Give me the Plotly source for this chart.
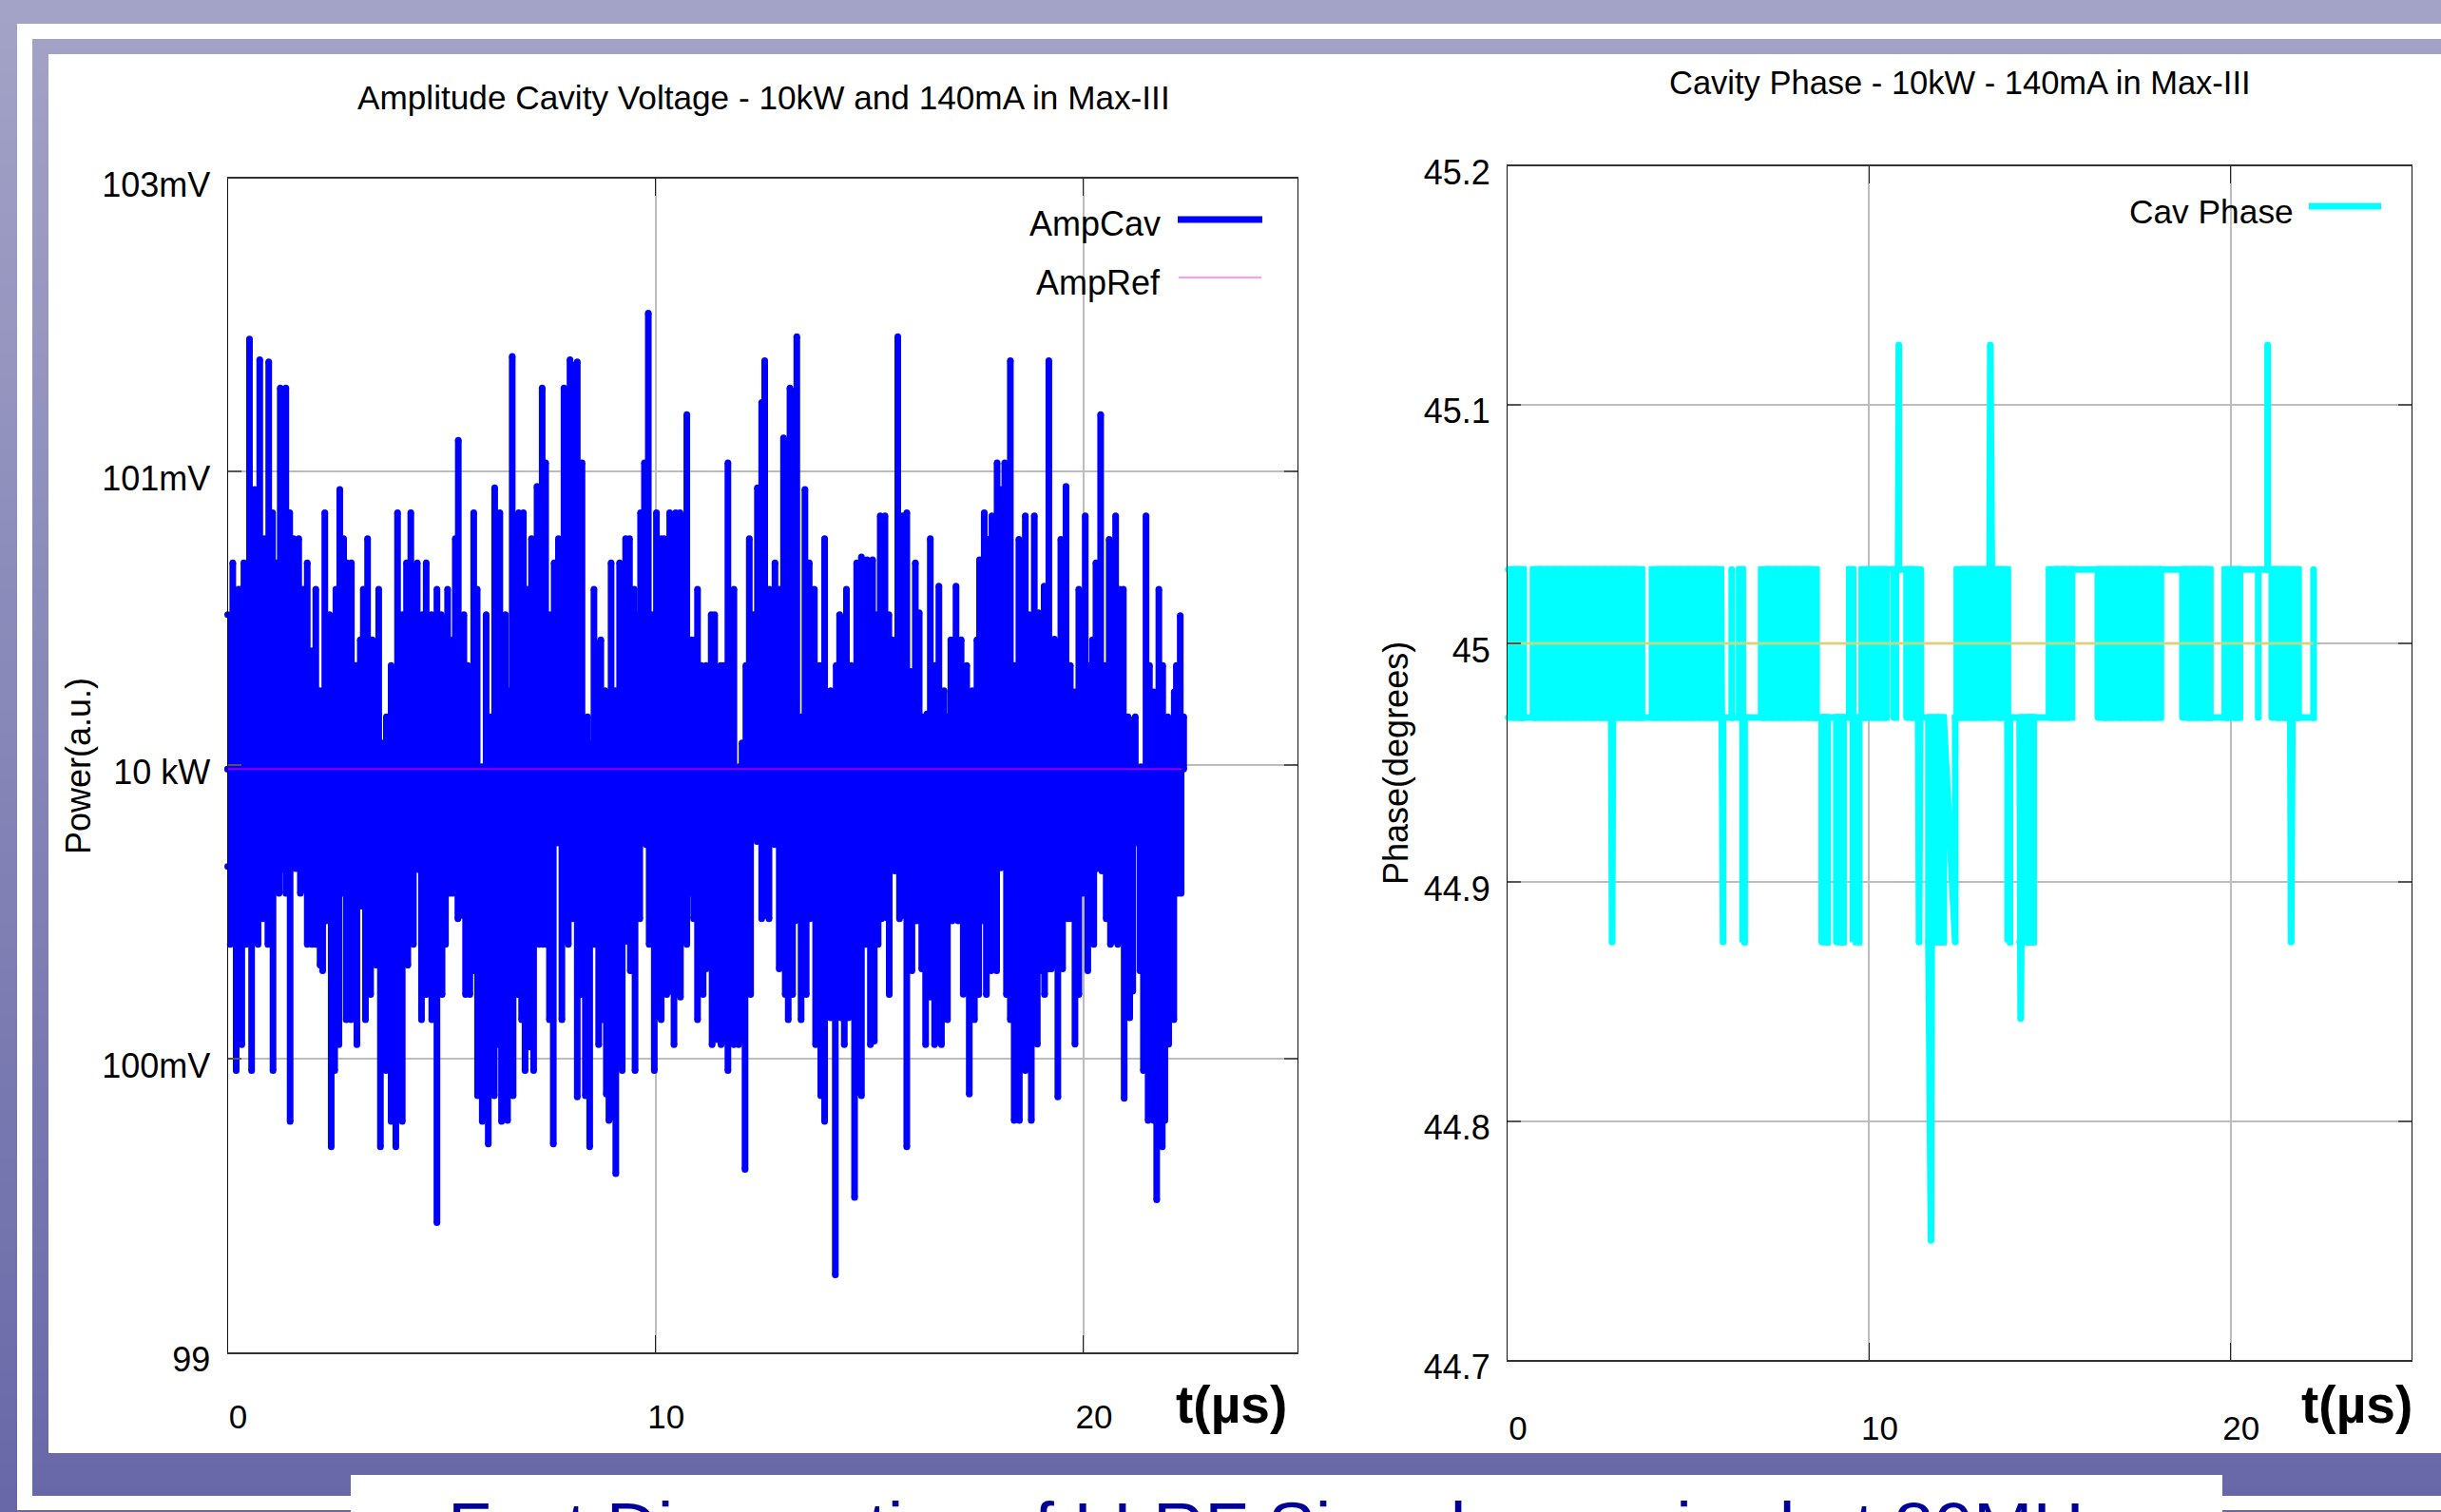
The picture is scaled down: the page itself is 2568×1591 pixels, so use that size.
import plotly.graph_objects as go

W, H_PX = 2568, 1591

# ---- Left chart: AmpCav upper envelope (t in microseconds, value on the axis scale)
amp_top_t = [0.00,0.12,0.25,0.31,0.38,0.51,0.63,0.75,0.86,0.96,1.05,1.14,1.23,1.36,1.45,1.54,1.66,1.76,1.86,1.97,2.06,2.16,2.27,2.38,2.44,2.53,2.62,2.71,2.79,2.89,2.97,3.02,3.10,3.17,3.27,3.38,3.44,3.53,3.61,3.71,3.82,3.97,4.08,4.18,4.28,4.43,4.55,4.64,4.76,4.89,4.99,5.14,5.25,5.32,5.39,5.52,5.61,5.75,5.83,5.93,6.04,6.15,6.24,6.36,6.49,6.56,6.65,6.80,6.91,7.00,7.10,7.23,7.35,7.43,7.52,7.57,7.63,7.73,7.86,8.00,8.17,8.28,8.41,8.47,8.56,8.72,8.82,8.87,8.96,9.06,9.16,9.30,9.39,9.50,9.57,9.65,9.74,9.83,9.93,10.02,10.13,10.20,10.33,10.47,10.57,10.73,10.84,10.92,10.98,11.07,11.18,
11.30,11.38,11.52,11.59,11.69,11.83,11.95,12.02,12.11,12.19,12.29,12.38,12.48,12.55,12.66,12.79,12.89,12.99,13.14,13.30,13.40,13.49,13.59,13.64,13.71,13.83,13.95,14.09,14.22,14.30,14.46,14.57,14.61,14.70,14.81,14.94,15.07,15.17,15.25,15.36,15.45,15.53,15.59,15.66,15.77,15.87,15.96,16.07,16.16,16.25,16.34,16.42,16.53,16.62,16.74,16.81,16.90,17.02,17.14,17.27,17.40,17.51,17.57,17.68,17.77,17.86,17.98,18.08,18.16,18.29,18.38,18.49,18.64,18.73,18.85,18.95,19.01,19.08,19.19,19.32,19.47,19.59,19.69,19.79,19.89,20.04,20.14,20.21,20.29,20.40,20.51,20.60,20.75,20.84,20.93,21.04,21.21,21.34,21.46,21.54,21.64,21.76,21.85,21.97,22.06,22.12,22.17,22.26,22.34]
amp_top_v = [101.513,101.69,101.60,101.60,101.69,102.452,101.94,102.382,101.772,102.374,101.86,101.69,102.285,102.285,101.86,101.772,101.772,101.60,101.69,101.39,101.60,101.254,101.86,101.513,101.34,101.60,101.94,101.772,101.69,101.69,101.34,101.34,101.427,101.60,101.772,101.427,101.34,101.60,101.076,101.165,101.34,101.86,101.513,101.69,101.86,101.69,101.513,101.69,101.513,101.60,101.513,101.60,101.427,101.772,102.107,101.513,101.34,101.86,101.60,100.995,101.513,101.165,101.945,101.86,101.513,101.254,102.393,101.86,101.86,101.60,101.772,101.95,102.285,102.03,101.513,101.427,101.69,101.772,102.285,102.382,102.374,102.03,101.165,101.076,101.60,101.427,101.254,100.995,101.69,101.254,101.69,101.772,101.772,101.60,101.513,101.86,102.03,102.54,101.513,101.86,101.772,101.772,101.86,101.86,101.86,102.195,101.427,101.427,101.60,101.34,101.34,
101.513,101.513,101.34,101.34,102.03,101.60,100.995,101.076,101.34,101.772,101.513,101.945,102.236,102.378,101.60,101.69,101.60,102.115,102.285,102.46,101.165,101.94,101.69,101.427,101.60,101.34,101.772,101.254,101.34,101.513,101.60,101.34,101.254,101.69,101.71,101.70,101.70,101.513,101.85,101.85,101.513,101.427,101.34,102.46,101.85,101.86,101.32,101.69,101.52,101.165,101.175,101.772,101.34,101.61,101.254,101.165,101.427,101.61,101.427,101.34,101.254,101.427,101.70,101.86,101.77,101.85,102.03,101.94,102.03,102.378,101.34,101.77,101.85,101.513,101.85,101.52,101.34,101.61,102.378,101.43,101.77,101.95,101.34,101.25,101.60,101.85,101.34,101.427,101.69,102.195,101.34,101.77,101.85,101.60,101.60,101.165,101.165,100.995,101.85,101.34,101.25,101.60,101.34,101.165,100.99,101.25,101.34,101.51,101.165]

# ---- Left chart: AmpCav lower envelope
amp_bot_t = [0.00,0.06,0.20,0.33,0.43,0.56,0.71,0.83,0.94,1.06,1.20,1.29,1.36,1.46,1.59,1.70,1.86,1.97,2.06,2.16,2.22,2.30,2.42,2.50,2.60,2.68,2.77,2.88,3.02,3.13,3.22,3.34,3.43,3.47,3.57,3.70,3.82,3.93,4.08,4.21,4.34,4.45,4.53,4.64,4.71,4.77,4.89,5.01,5.09,5.19,5.26,5.38,5.56,5.66,5.75,5.84,5.95,6.09,6.23,6.32,6.40,6.54,6.67,6.78,6.87,6.95,7.06,7.15,7.28,7.37,7.45,7.52,7.61,7.71,7.81,7.96,8.06,8.17,8.26,8.36,8.46,8.56,8.67,8.76,8.85,8.91,9.07,9.22,9.31,9.41,9.52,9.63,9.70,9.78,9.85,9.97,10.13,10.26,10.43,10.58,10.73,10.84,10.89,10.98,11.11,11.18,
11.32,11.43,11.53,11.69,11.83,11.94,12.09,12.22,12.31,12.37,12.48,12.65,12.78,12.89,13.03,13.10,13.20,13.26,13.40,13.52,13.61,13.74,13.86,13.95,14.09,14.20,14.33,14.41,14.51,14.57,14.65,14.81,14.91,15.02,15.11,15.20,15.28,15.33,15.40,15.46,15.59,15.70,15.87,15.99,16.10,16.22,16.31,16.42,16.52,16.68,16.82,16.93,17.07,17.19,17.33,17.45,17.55,17.62,17.73,17.84,17.97,18.07,18.20,18.29,18.38,18.50,18.64,18.78,18.92,18.99,19.09,19.18,19.25,19.40,19.51,19.56,19.63,19.69,19.80,19.89,19.97,20.10,20.24,20.33,20.43,20.53,20.63,20.80,20.95,21.08,21.15,21.24,21.32,21.40,21.51,21.64,21.71,21.84,21.90,21.99,22.11,22.21,22.28]
amp_bot_v = [100.655,100.39,99.96,100.048,100.39,99.96,100.39,100.477,100.39,99.96,100.564,100.645,100.564,99.787,100.648,100.564,100.39,100.39,100.39,100.319,100.30,100.47,99.70,99.96,100.048,100.564,100.133,100.133,100.048,100.52,100.133,100.219,100.477,100.319,99.70,99.96,99.787,99.70,99.787,100.319,100.39,100.645,100.133,100.219,100.39,100.133,99.442,100.219,100.39,100.564,100.564,100.477,100.219,100.219,100.30,99.874,99.787,99.71,99.874,100.048,99.787,99.79,99.874,100.219,100.133,99.96,100.04,99.96,100.39,100.39,100.39,100.133,99.71,100.735,100.133,100.39,100.477,99.87,100.219,99.874,99.70,100.39,100.048,100.133,99.88,99.79,99.609,99.96,100.40,100.30,99.96,100.477,100.735,100.73,100.39,99.96,100.133,100.219,100.048,100.21,100.39,100.564,100.477,100.133,100.219,100.306,
100.048,100.065,100.048,99.96,100.048,100.048,99.623,100.219,100.81,100.74,100.477,100.477,100.73,100.306,100.219,100.133,100.219,100.47,100.133,100.219,100.477,100.048,99.874,99.787,100.14,99.264,100.14,100.048,100.14,100.30,99.528,99.874,100.39,100.048,100.06,100.39,100.477,100.73,100.48,100.219,100.64,100.477,99.70,100.30,100.47,100.306,100.048,100.21,100.048,100.048,100.133,100.47,100.47,100.22,99.88,100.133,100.219,100.47,100.219,100.30,100.30,100.65,100.219,100.133,99.79,99.79,99.96,99.79,100.05,100.30,100.219,100.306,100.306,99.87,100.306,100.63,100.477,100.477,100.05,100.219,100.564,100.30,100.39,100.648,100.64,100.477,100.39,100.39,99.865,100.14,100.23,100.735,100.30,99.96,99.79,99.79,99.52,99.70,99.79,100.05,100.133,100.564,100.564]

amp_ref_t = [0.0, 22.3]
amp_ref_v = [100.987, 100.987]

# ---- Right chart: cavity phase, quantised levels in degrees
H, L, D, E, F, U = 45.031, 44.969, 44.875, 44.75, 44.843, 45.125
phase_t = [0.02,0.02,0.16,0.26,0.35,0.44,0.44,
0.71,0.71,0.81,0.91,1.01,1.10,1.20,1.30,1.40,1.50,1.60,1.70,1.80,1.90,1.99,2.09,2.19,2.29,2.39,2.49,2.59,2.69,2.78,2.85,2.89,2.93,2.98,3.08,3.18,3.28,3.38,3.48,3.57,3.71,3.71,
4.00,4.00,4.10,4.20,4.30,4.39,4.49,4.59,4.69,4.79,4.89,4.99,5.09,5.18,5.28,5.38,5.48,5.58,5.68,5.78,5.90,5.90,5.96,5.96,
6.20,6.20,6.20,6.41,6.41,6.46,6.50,6.50,6.55,6.55,
7.02,7.02,7.12,7.22,7.32,7.42,7.52,7.61,7.71,7.81,7.91,8.01,8.11,8.21,8.31,8.40,8.54,8.54,8.54,
8.69,8.69,8.77,8.85,8.85,9.10,9.10,9.19,9.29,9.29,
9.45,9.45,9.50,9.55,9.55,9.72,9.72,
9.80,9.80,9.90,9.99,10.09,10.19,10.29,10.39,10.47,10.47,
10.68,10.68,10.74,10.80,10.82,10.82,
11.04,11.04,11.14,11.24,11.34,11.38,11.43,11.43,
11.64,11.64,11.71,11.74,11.84,11.94,12.06,12.06,12.38,12.38,
12.43,12.43,12.53,12.63,12.73,12.83,12.93,13.03,13.13,13.22,13.32,13.35,13.42,13.52,13.62,13.72,13.83,13.83,13.83,13.89,13.89,
14.16,14.16,14.19,14.26,14.36,14.46,14.55,14.55,
14.98,14.98,15.08,15.18,15.28,15.38,15.48,15.61,15.61,
16.33,16.33,16.42,16.52,16.62,16.72,16.82,16.92,17.02,17.12,17.22,17.31,17.41,17.51,17.61,17.71,17.81,17.91,18.06,18.06,18.06,
18.67,18.67,18.77,18.87,18.96,19.06,19.16,19.26,19.36,19.43,19.43,19.43,
19.84,19.84,19.94,20.04,20.14,20.25,20.25,20.25,
20.76,20.76,20.76,21.02,21.02,21.02,
21.14,21.14,21.23,21.33,21.43,21.53,21.63,21.67,21.73,21.80,21.87,21.87,
22.29,22.29,22.29]
phase_v = [L,H,L,H,L,H,L,
L,H,L,H,L,H,L,H,L,H,L,H,L,H,L,H,L,H,L,H,L,H,L,H,D,H,L,H,L,H,L,H,L,H,L,
L,H,L,H,L,H,L,H,L,H,L,H,L,H,L,H,L,H,L,H,L,H,D,L,
L,H,L,L,H,L,H,L,D,L,
L,H,L,H,L,H,L,H,L,H,L,H,L,H,L,H,L,H,L,
L,D,L,D,L,L,D,L,D,L,
L,H,L,H,L,D,L,
L,H,L,H,L,H,L,H,L,H,
H,L,H,H,U,H,
H,L,H,L,H,D,H,L,
L,D,E,L,D,L,D,L,D,L,
L,H,L,H,L,H,L,H,L,H,L,U,L,H,L,H,L,H,L,D,L,
L,D,F,L,D,L,D,L,
L,H,L,H,L,H,L,H,H,
H,L,H,L,H,L,H,L,H,L,H,L,H,L,H,L,H,L,H,L,H,
H,L,H,L,H,L,H,L,H,L,H,L,
L,H,L,H,L,H,L,H,
H,L,H,H,U,H,
H,L,H,L,H,L,H,D,H,L,H,L,
L,H,L]
phase_ref_t = [0.02, 22.29]
phase_ref_v = [45.0, 45.0]

amp_tick_vals = [99, 100, 101, 102, 103]
amp_tick_text = ["99", "100mV", "10 kW", "101mV", "103mV"]
phase_tick_vals = [44.7, 44.8, 44.9, 45.0, 45.1, 45.2]
phase_tick_text = ["44.7", "44.8", "44.9", "45", "45.1", "45.2"]
time_tick_vals = [0, 10, 20]
time_tick_text = ["0", "10", "20"]

FONT = "Liberation Sans"
MID = amp_ref_v[0]
PX = lambda x: x / W
PY = lambda y: 1 - y / H_PX

# vertical strokes of the AmpCav trace, from both envelopes to the reference level
stem_x, stem_y = [], []
pts = sorted(list(zip(amp_top_t, amp_top_v)) + list(zip(amp_bot_t, amp_bot_v)))
for t, v in pts:
    stem_x += [t, t, None]
    stem_y += [v, MID, None]

# solid body between neighbouring readings, up to the shallower of the two
body_x, body_y = [], []
for ts, vs, pick in ((amp_top_t, amp_top_v, min), (amp_bot_t, amp_bot_v, max)):
    for i in range(len(ts) - 1):
        lvl = pick(vs[i], vs[i + 1])
        body_x += [ts[i], ts[i + 1], ts[i + 1], ts[i], None]
        body_y += [MID, MID, lvl, lvl, None]

# solid bands where the phase toggles too fast to resolve
band_x, band_y = [], []
for i in range(len(phase_t) - 1):
    a, b = phase_v[i], phase_v[i + 1]
    if {a, b} in ({H, L}, {L, D}) and 0 < phase_t[i + 1] - phase_t[i] < 0.2:
        lo, hi = min(a, b), max(a, b)
        band_x += [phase_t[i], phase_t[i + 1], phase_t[i + 1], phase_t[i], phase_t[i], None]
        band_y += [lo, lo, hi, hi, lo, None]

fig = go.Figure()
fig.add_trace(go.Scatter(x=body_x, y=body_y, mode="lines", fill="toself", fillcolor="#0000ff",
    line=dict(width=0, color="#0000ff"), name="AmpCav body", xaxis="x", yaxis="y", hoverinfo="skip"))
fig.add_trace(go.Scatter(x=stem_x, y=stem_y, mode="lines+markers", name="AmpCav",
    line=dict(color="#0000ff", width=7), marker=dict(color="#0000ff", size=7),
    cliponaxis=False, xaxis="x", yaxis="y", hoverinfo="skip"))
fig.add_trace(go.Scatter(x=amp_ref_t, y=amp_ref_v, mode="lines", name="AmpRef",
    line=dict(color="rgba(255,0,255,0.55)", width=2), xaxis="x", yaxis="y", hoverinfo="skip"))
fig.add_trace(go.Scatter(x=band_x, y=band_y, mode="lines", fill="toself", fillcolor="#00ffff",
    line=dict(width=7, color="#00ffff"), cliponaxis=False, name="Cav Phase band",
    xaxis="x2", yaxis="y2", hoverinfo="skip"))
fig.add_trace(go.Scatter(x=phase_t, y=phase_v, mode="lines+markers", name="Cav Phase",
    line=dict(color="#00ffff", width=7), marker=dict(color="#00ffff", size=7),
    cliponaxis=False, xaxis="x2", yaxis="y2", hoverinfo="skip"))
fig.add_trace(go.Scatter(x=phase_ref_t, y=phase_ref_v, mode="lines", name="Phase Ref",
    line=dict(color="rgba(226,212,110,0.8)", width=3), xaxis="x2", yaxis="y2", hoverinfo="skip"))

# slide background: vertical gradient drawn as nested rectangles, then white panels
shapes = []
TOP_C, BOT_C = (163, 163, 199), (104, 104, 168)
N = 64
for i in range(N):
    f = (i + 0.5) / N
    c = tuple(round(a + (b - a) * f) for a, b in zip(TOP_C, BOT_C))
    y_top = round(H_PX * i / N)
    shapes.append(dict(type="rect", xref="paper", yref="paper", layer="below",
        x0=0, x1=1, y0=PY(y_top), y1=0, fillcolor="rgb(%d,%d,%d)" % c, line_width=0))
def white(x0, y0, x1, y1):
    shapes.append(dict(type="rect", xref="paper", yref="paper", layer="below",
        x0=PX(x0), x1=PX(x1), y0=PY(y0), y1=PY(y1), fillcolor="white", line_width=0))
white(18, 25, W, 41)
white(18, 25, 34, 1589)
white(18, 1574, W, 1589)
white(51, 57, W, 1529)
white(369, 1552, 2338, H_PX)

# legend keys
def key(x0, x1, y, color, w):
    shapes.append(dict(type="line", xref="paper", yref="paper", layer="above",
        x0=PX(x0), x1=PX(x1), y0=PY(y), y1=PY(y), line=dict(color=color, width=w)))
key(1239, 1328, 231, "#0000ff", 7)
key(1240, 1327, 292, "#ff99ff", 2)
key(2429, 2505, 217, "#00ffff", 7)

def label(text, x, y, size=36, xanchor="center", yanchor="middle", color="black", bold=False, angle=0):
    return dict(text=("<b>%s</b>" % text) if bold else text, x=PX(x), y=PY(y),
        xref="paper", yref="paper", showarrow=False, xanchor=xanchor, yanchor=yanchor,
        textangle=angle, font=dict(family=FONT, size=size, color=color), borderpad=0)

annotations = [
    label("Amplitude Cavity Voltage - 10kW and 140mA in Max-III", 803, 103, size=35.2),
    label("Cavity Phase - 10kW - 140mA in Max-III", 2062, 87, size=34.5),
    label("Power(a.u.)", 82, 806, size=36, angle=-90),
    label("Phase(degrees)", 1468, 803, size=36, angle=-90),
    label("t(µs)", 1295, 1478, size=55, bold=True),
    label("t(µs)", 2479, 1478, size=55, bold=True),
    label("AmpCav", 1222, 235, xanchor="right"),
    label("AmpRef", 1222, 297, xanchor="right"),
    label("Cav Phase", 2414, 222, size=35.3, xanchor="right"),
    label("Fast Diagnostics of LLRF Signals acquired at 80MHz", 1350, 1564, size=75,
          yanchor="top", color="#000099"),
]

def xax(domain, anchor, standoff):
    return dict(domain=domain, anchor=anchor, range=[0, 25], tickmode="array",
        tickvals=time_tick_vals, ticktext=time_tick_text, showgrid=True,
        gridcolor="#bdbdbd", gridwidth=2, zeroline=False, showline=True, linecolor="#333333",
        linewidth=2, mirror="ticks", ticks="inside", ticklen=18, tickwidth=1, tickcolor="#222222",
        ticklabelstandoff=standoff, ticklabelshift=11,
        tickfont=dict(family=FONT, size=35, color="black"), automargin=False)

def yax(domain, anchor, rng, vals, text):
    return dict(domain=domain, anchor=anchor, range=rng, tickmode="array",
        tickvals=vals, ticktext=text, showgrid=True, gridcolor="#bdbdbd", gridwidth=2,
        zeroline=False, showline=True, linecolor="#111111", linewidth=1, mirror="ticks",
        ticks="inside", ticklen=14, tickwidth=2, tickcolor="#555555",
        ticklabelstandoff=10, ticklabelshift=7,
        tickfont=dict(family=FONT, size=36, color="black"), automargin=False)

fig.update_layout(
    width=W, height=H_PX, margin=dict(l=0, r=0, t=0, b=0, pad=0), autosize=False,
    paper_bgcolor="white", plot_bgcolor="rgba(0,0,0,0)", showlegend=False,
    shapes=shapes, annotations=annotations,
    xaxis=xax([PX(239.5), PX(1365)], "y", 36),
    yaxis=yax([PY(1423), PY(187.5)], "x", [99, 103], amp_tick_vals, amp_tick_text),
    xaxis2=xax([PX(1586), PX(2537)], "y2", 40),
    yaxis2=yax([PY(1431), PY(174.5)], "x2", [44.7, 45.2], phase_tick_vals, phase_tick_text),
)

fig.write_html("out.html", config=dict(displayModeBar=False),
    post_script="document.body.style.margin='0';document.body.style.overflow='hidden';")
